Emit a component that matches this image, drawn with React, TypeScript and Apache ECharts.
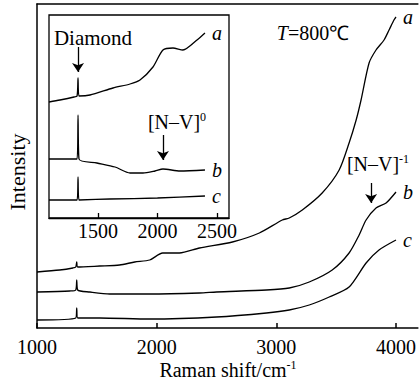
import React, { useEffect, useRef } from "react";
import * as echarts from "echarts";

const mainTicks = [1000, 2000, 3000, 4000];
const insetTicks = [1500, 2000, 2500];

// Main plot (Raman shift, intensity a.u.)
const mainA: [number, number][] = [
  [1000, 56], [1190, 58], [1300, 60], [1324, 61], [1332, 66], [1340, 61], [1525, 62], [1690, 63],
  [1817, 66], [1942, 68], [2050, 75], [2190, 75], [2358, 80], [2633, 86], [2858, 95], [3050, 108],
  [3108, 110], [3217, 118], [3383, 135], [3525, 158], [3608, 185], [3667, 208], [3708, 228],
  [3775, 265], [3833, 278], [3900, 288], [3942, 298], [3983, 308], [4000, 311],
];
const mainB: [number, number][] = [
  [1000, 36], [1275, 37], [1324, 38], [1332, 48], [1340, 38], [1442, 36], [1608, 34], [1942, 34],
  [2358, 35], [2500, 36], [2917, 38], [3108, 40], [3275, 46], [3467, 58], [3608, 75], [3692, 93],
  [3750, 108], [3833, 120], [3917, 125], [4000, 136],
];
const mainC: [number, number][] = [
  [1000, 8], [1324, 10], [1332, 20], [1340, 10], [1525, 10], [1942, 9], [2500, 11], [2917, 15],
  [3108, 18], [3275, 23], [3442, 31], [3608, 41], [3750, 65], [3858, 78], [4000, 88],
];

// Inset
const insetA: [number, number][] = [
  [1088, 116], [1180, 118], [1298, 121], [1324, 122], [1332, 140], [1340, 122], [1433, 123],
  [1626, 130], [1769, 134], [1853, 138], [1962, 151], [2046, 168], [2130, 170], [2214, 168],
  [2332, 178], [2399, 185],
];
const insetB: [number, number][] = [
  [1088, 59], [1200, 59], [1324, 59], [1332, 103], [1340, 59], [1491, 55], [1643, 51],
  [1769, 45], [1878, 45], [1979, 47], [2046, 49], [2189, 47], [2399, 48],
];
const insetC: [number, number][] = [
  [1088, 18], [1324, 18], [1332, 41], [1340, 18], [1600, 19], [2000, 20], [2399, 22],
];

const FONT = "Liberation Serif";
const BLACK = "#000";

function lineSeries(name: string, data: [number, number][], xi: number, yi: number, label: string, extra: any = {}) {
  return {
    name,
    type: "line",
    xAxisIndex: xi,
    yAxisIndex: yi,
    data,
    symbol: "none",
    smooth: 0.25,
    lineStyle: { color: BLACK, width: 1.3 },
    endLabel: {
      show: true,
      formatter: label,
      fontFamily: FONT,
      fontStyle: "italic",
      fontSize: 20,
      color: BLACK,
      distance: 7,
    },
    silent: true,
    ...extra,
  };
}

function arrow(x: number, y1: number, y2: number) {
  return {
    silent: true,
    symbol: ["none", "arrow"],
    symbolSize: 9,
    label: { show: false },
    lineStyle: { type: "solid", color: BLACK, width: 1.3 },
    emphasis: { disabled: true },
    data: [[{ coord: [x, y1] }, { coord: [x, y2] }]],
  };
}

const richSup = {
  m: { fontFamily: FONT, fontSize: 20, fill: BLACK, lineHeight: 22 },
  s: { fontFamily: FONT, fontSize: 12, fill: BLACK, lineHeight: 12, verticalAlign: "top" },
};

export default function App() {
  const ref = useRef<HTMLDivElement>(null);
  useEffect(() => {
    if (!ref.current) return;
    const chart = echarts.init(ref.current, undefined, { renderer: "svg" });
    const axisCommon = {
      type: "value",
      splitLine: { show: false },
    };
    const fmt = (v: number) => String(v);
    chart.setOption({
      animation: false,
      backgroundColor: "#fff",
      textStyle: { fontFamily: FONT },
      grid: [
        { left: 37, top: 4, right: 0, bottom: 59 },
        { left: 49, top: 15, width: 180, height: 203, show: true, borderColor: BLACK, borderWidth: 1.3, backgroundColor: "#fff" },
      ],
      xAxis: [
        {
          ...axisCommon,
          gridIndex: 0,
          min: 1000,
          max: 4183,
          axisLine: { onZero: false, lineStyle: { color: BLACK, width: 1.5 } },
          axisTick: { inside: true, length: 5, customValues: mainTicks, lineStyle: { color: BLACK, width: 1.5 } },
          axisLabel: { customValues: mainTicks, formatter: fmt, margin: 9, fontSize: 20, color: BLACK, fontFamily: FONT },
        },
        {
          ...axisCommon,
          gridIndex: 0,
          position: "top",
          min: 1000,
          max: 4183,
          axisLine: { onZero: false, lineStyle: { color: BLACK, width: 1.5 } },
          axisTick: { show: false },
          axisLabel: { show: false },
        },
        {
          ...axisCommon,
          gridIndex: 1,
          min: 1088,
          max: 2601,
          axisLine: { onZero: false, lineStyle: { color: BLACK, width: 1.3 } },
          axisTick: { inside: true, length: 5, customValues: insetTicks, lineStyle: { color: BLACK, width: 1.3 } },
          axisLabel: { customValues: insetTicks, formatter: fmt, margin: 3, fontSize: 20, color: BLACK, fontFamily: FONT },
        },
      ],
      yAxis: [
        {
          ...axisCommon,
          gridIndex: 0,
          min: 0,
          max: 324,
          axisLine: { show: true, onZero: false, lineStyle: { color: BLACK, width: 1.5 } },
          axisTick: { show: false },
          axisLabel: { show: false },
        },
        {
          ...axisCommon,
          gridIndex: 1,
          min: 0,
          max: 203,
          show: false,
        },
      ],
      series: [
        lineSeries("a", mainA, 0, 0, "a"),
        lineSeries("b", mainB, 0, 0, "b", { markLine: arrow(3792, 145, 125) }),
        lineSeries("c", mainC, 0, 0, "c"),
        lineSeries("inset a", insetA, 2, 1, "a", { markLine: arrow(1332, 171, 146) }),
        lineSeries("inset b", insetB, 2, 1, "b", { markLine: arrow(2046, 83, 58) }),
        lineSeries("inset c", insetC, 2, 1, "c"),
      ],
      graphic: [
        {
          type: "text",
          x: 17,
          y: 172,
          rotation: Math.PI / 2,
          style: { text: "Intensity", fontFamily: FONT, fontSize: 22, fill: BLACK, align: "center", verticalAlign: "middle" },
        },
        {
          type: "text",
          x: 228,
          y: 370,
          style: { text: "{m|Raman shift/cm}{s|-1}", align: "center", verticalAlign: "middle", rich: richSup },
        },
        {
          type: "text",
          x: 93,
          y: 38,
          style: { text: "Diamond", fontFamily: FONT, fontSize: 21, fill: BLACK, align: "center", verticalAlign: "middle" },
        },
        {
          type: "text",
          x: 177,
          y: 122,
          style: { text: "{m|[N–V]}{s|0}", align: "center", verticalAlign: "middle", rich: richSup },
        },
        {
          type: "text",
          x: 378,
          y: 164,
          style: { text: "{m|[N–V]}{s|-1}", align: "center", verticalAlign: "middle", rich: richSup },
        },
        {
          type: "text",
          x: 313,
          y: 33,
          style: {
            text: "{i|T}{m|=800℃}",
            align: "center",
            verticalAlign: "middle",
            rich: {
              i: { fontFamily: FONT, fontSize: 20, fontStyle: "italic", fill: BLACK },
              m: { fontFamily: FONT, fontSize: 20, fill: BLACK },
            },
          },
        },
      ],
    });
    return () => chart.dispose();
  }, []);
  return (
    <div
      ref={ref}
      style={{ position: "fixed", left: 0, top: 0, width: 419, height: 387, background: "#fff" }}
    />
  );
}
